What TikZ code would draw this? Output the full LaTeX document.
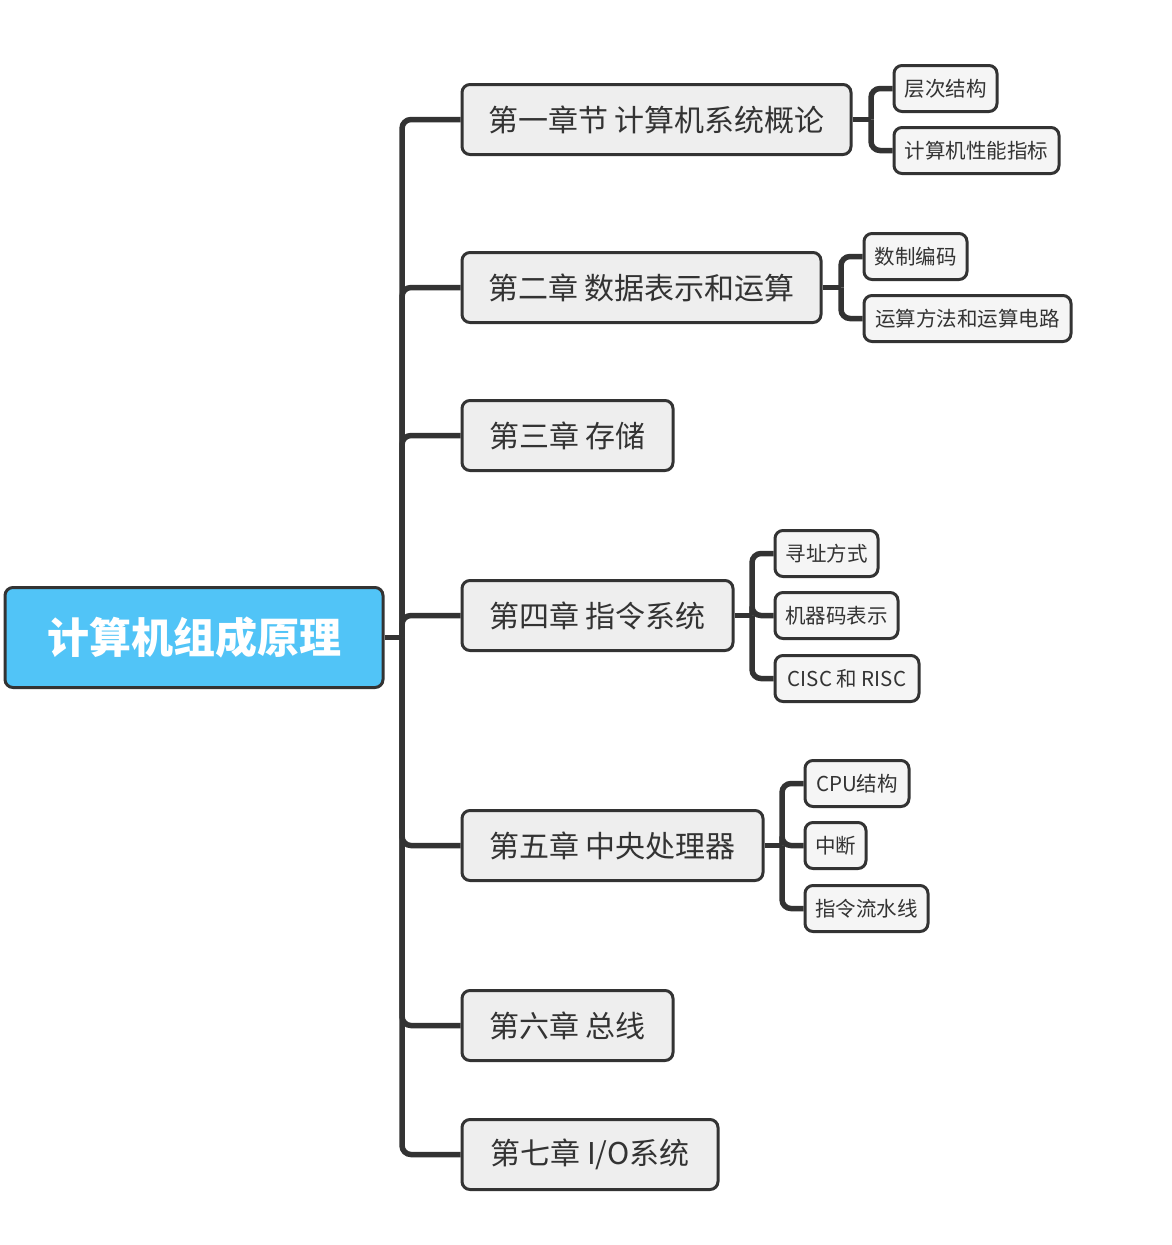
\documentclass[tikz,border=0pt]{standalone}
\usepackage{fontspec}
\setmainfont{Noto Sans CJK SC}
\usetikzlibrary{calc,backgrounds}
\definecolor{ink}{HTML}{333333}
\definecolor{rootblue}{HTML}{51C4F7}
\definecolor{chapfill}{HTML}{EEEEEE}
\definecolor{subfill}{HTML}{F5F5F5}
\tikzset{
  rootbox/.style={draw=ink, line width=3pt, rounded corners=8pt, fill=rootblue, text=white, inner sep=0pt, anchor=west, font=\fontsize{42}{50}\selectfont\bfseries},
  chapbox/.style={draw=ink, line width=3pt, rounded corners=8pt, fill=chapfill, text=ink, inner sep=0pt, anchor=west, minimum height=70pt, font=\fontsize{30}{36}\selectfont},
  subbox/.style={draw=ink, line width=3pt, rounded corners=8pt, fill=subfill, text=ink, inner sep=0pt, anchor=west, minimum height=46pt, font=\fontsize{20.5}{24}\selectfont},
  conn/.style={draw=ink, line width=5.5pt, rounded corners=9pt}
}
\begin{document}
\begin{tikzpicture}[x=1pt,y=-1pt]
\useasboundingbox (0,0) rectangle (1172,1245);
% root
\node[rootbox, minimum width=378pt, minimum height=100pt] (root) at (3.5,637.5) {计算机组成原理};
% chapters
\node[chapbox, minimum width=389pt] (c1) at (460.5,119.5) {第一章节 计算机系统概论};
\node[chapbox, minimum width=359pt] (c2) at (460.5,287.5) {第二章 数据表示和运算};
\node[chapbox, minimum width=211pt] (c3) at (460.5,435.5) {第三章 存储};
\node[chapbox, minimum width=271pt] (c4) at (460.5,615.5) {第四章 指令系统};
\node[chapbox, minimum width=301pt] (c5) at (460.5,845.5) {第五章 中央处理器};
\node[chapbox, minimum width=211pt] (c6) at (460.5,1025.5) {第六章 总线};
\node[chapbox, minimum width=256pt] (c7) at (460.5,1154.5) {第七章 I/O系统};
% subtopics
\node[subbox, minimum width=103pt] (s11) at (892.5,88.5) {层次结构};
\node[subbox, minimum width=165pt] (s12) at (892.5,150.5) {计算机性能指标};
\node[subbox, minimum width=103pt] (s21) at (862.5,256.5) {数制编码};
\node[subbox, minimum width=207pt] (s22) at (862.5,318.5) {运算方法和运算电路};
\node[subbox, minimum width=103pt] (s41) at (773.5,553.5) {寻址方式};
\node[subbox, minimum width=123pt] (s42) at (773.5,615.5) {机器码表示};
\node[subbox, minimum width=144pt] (s43) at (773.5,678.5) {CISC 和 RISC};
\node[subbox, minimum width=104pt] (s51) at (803.5,783.5) {CPU结构};
\node[subbox, minimum width=61pt] (s52) at (803.5,845.5) {中断};
\node[subbox, minimum width=123pt] (s53) at (803.5,908.5) {指令流水线};
% junctions
\coordinate (j0) at (402,637.5);
\coordinate (j1) at (871,119.5);
\coordinate (j2) at (841,287.5);
\coordinate (j4) at (752,615.5);
\coordinate (j5) at (782,845.5);
% connectors
\begin{scope}[on background layer]
\draw[conn] (root.east) -- (j0);
\foreach \c in {c1,c2,c3,c4,c5,c6,c7} { \draw[conn] (j0) |- (\c.west); }
\draw[conn] (c1.east) -- (j1);
\foreach \s in {s11,s12} { \draw[conn] (j1) |- (\s.west); }
\draw[conn] (c2.east) -- (j2);
\foreach \s in {s21,s22} { \draw[conn] (j2) |- (\s.west); }
\draw[conn] (c4.east) -- (j4);
\foreach \s in {s41,s42,s43} { \draw[conn] (j4) |- (\s.west); }
\draw[conn] (c5.east) -- (j5);
\foreach \s in {s51,s52,s53} { \draw[conn] (j5) |- (\s.west); }
\end{scope}
\end{tikzpicture}
\end{document}
